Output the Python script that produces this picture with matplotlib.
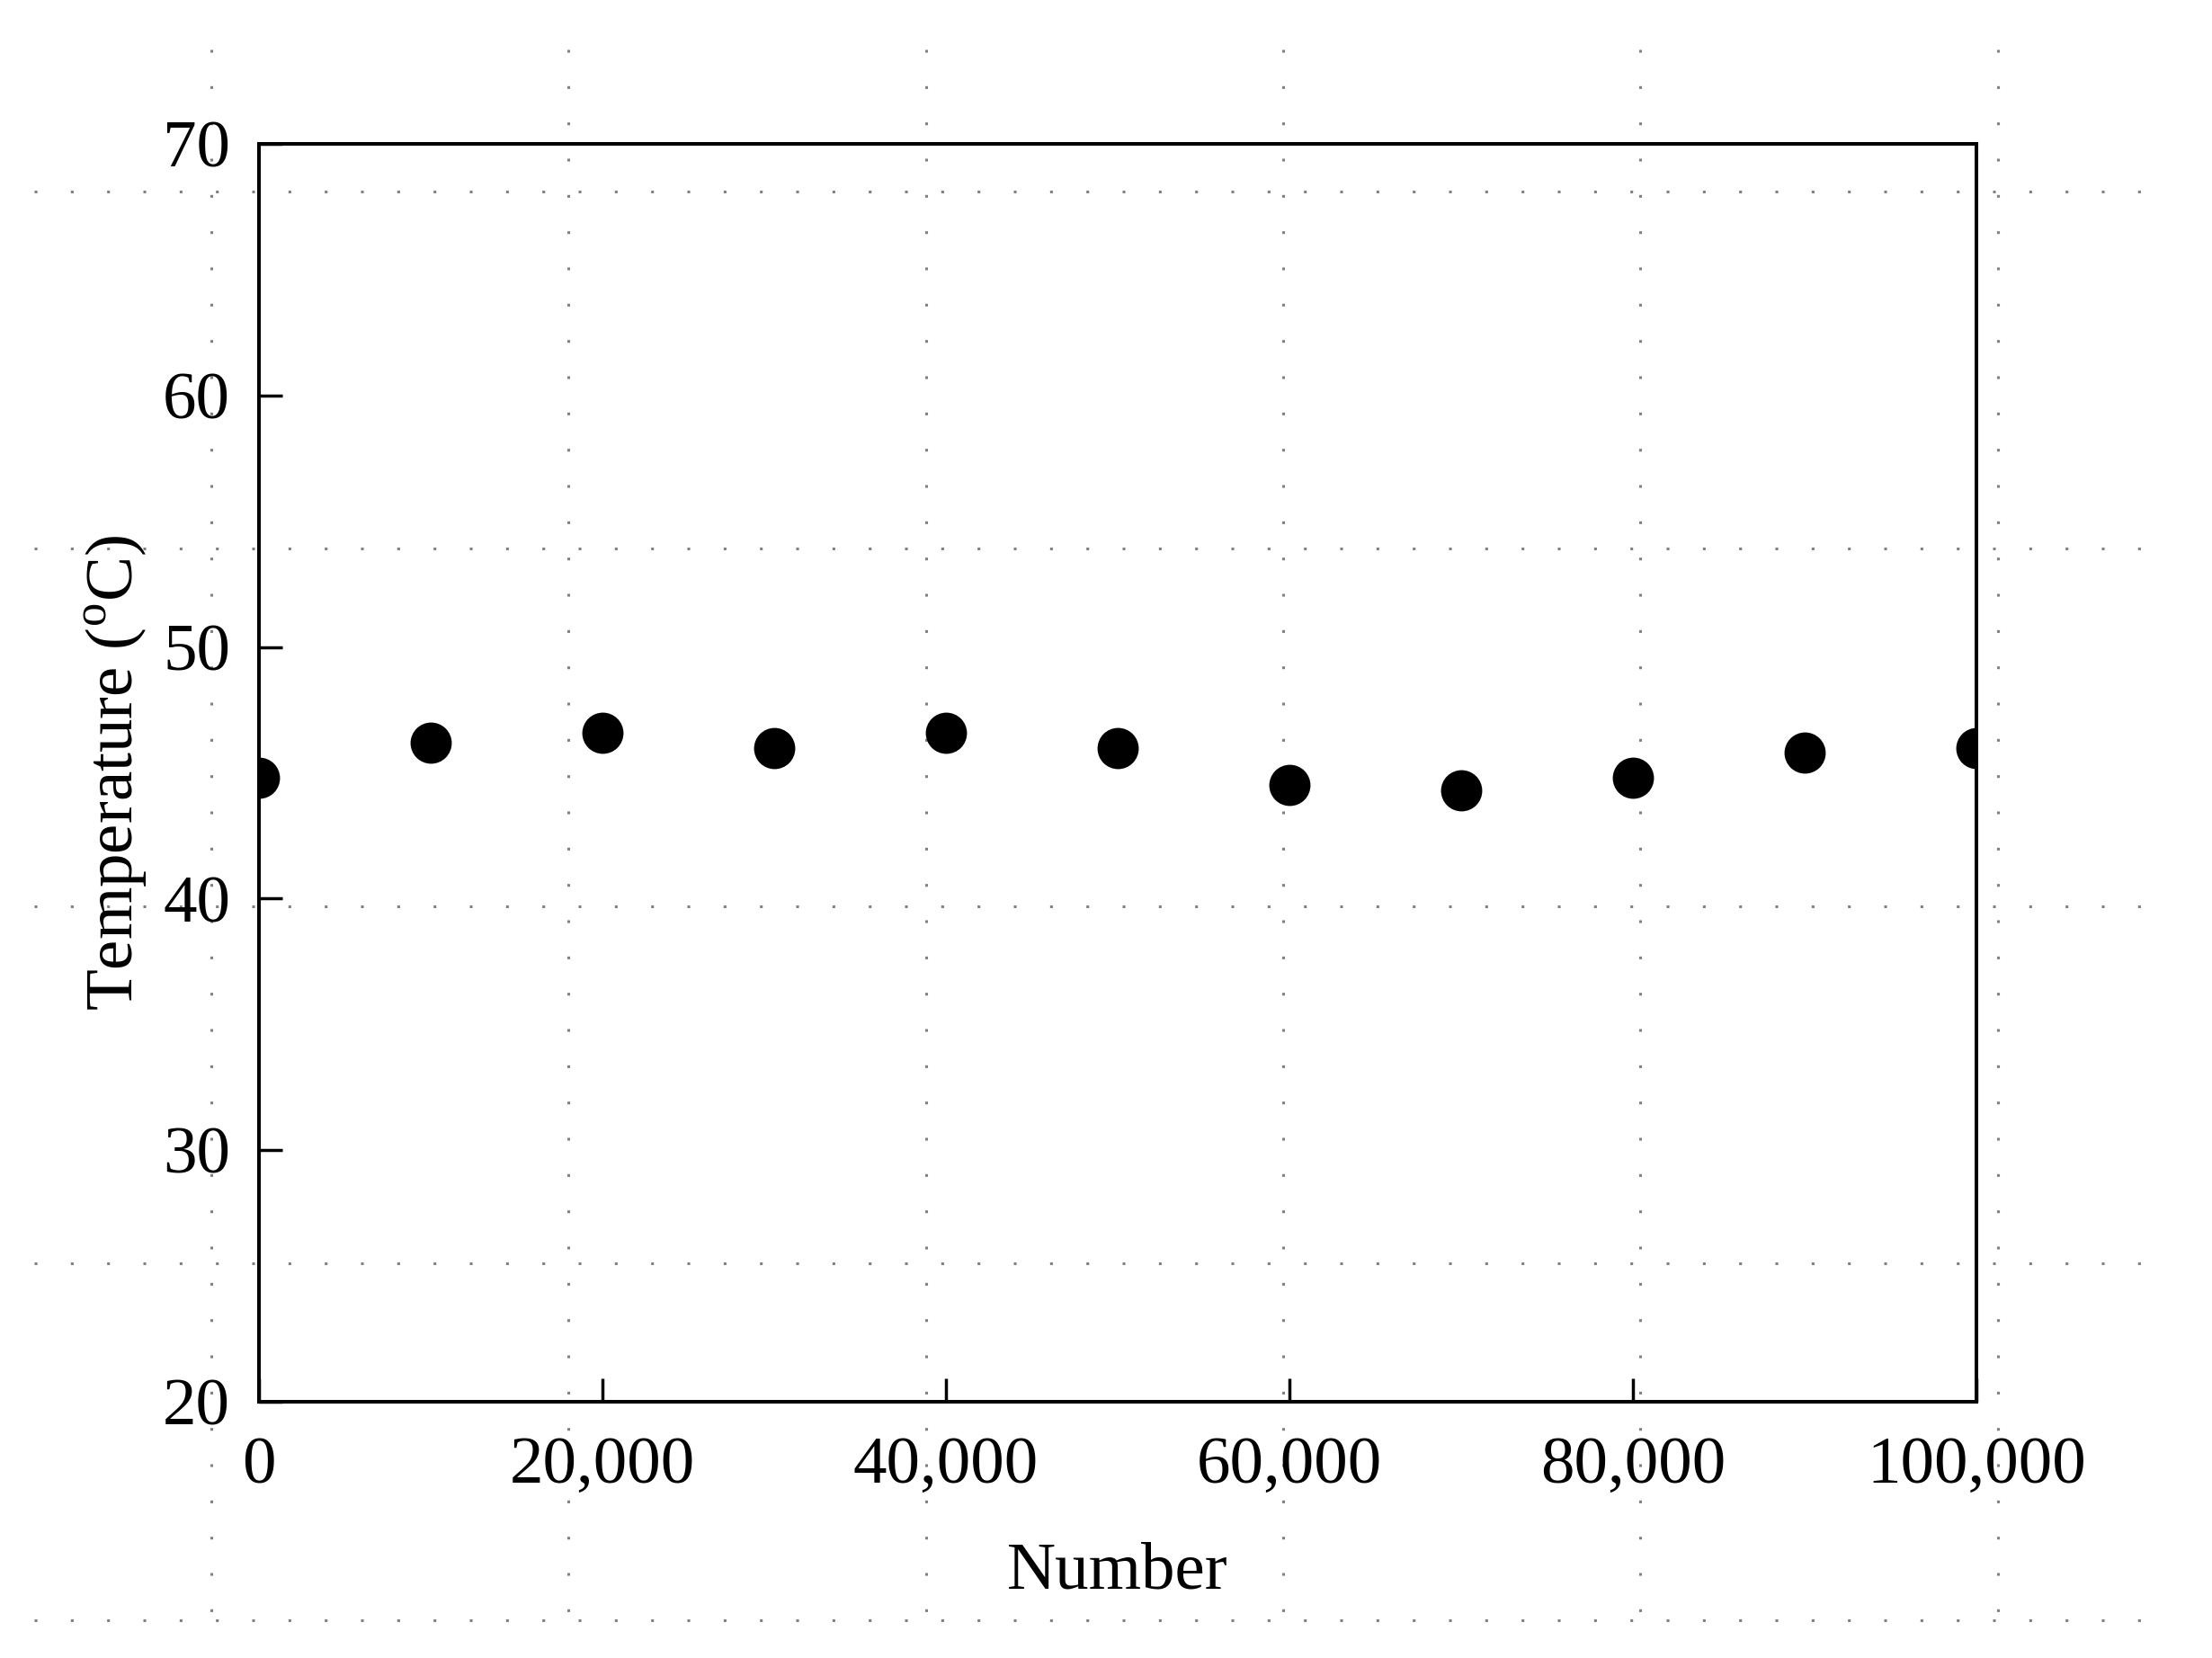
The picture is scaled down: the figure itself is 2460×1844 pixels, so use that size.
import numpy as np
import matplotlib
matplotlib.use("Agg")
import matplotlib.pyplot as plt

# data
numbers = [0, 10000, 20000, 30000, 40000, 50000, 60000, 70000, 80000, 90000, 100000]
temps = [44.8, 46.2, 46.6, 46.0, 46.6, 46.0, 44.5, 44.3, 44.8, 45.8, 46.0]
x_ticks = [0, 20000, 40000, 60000, 80000, 100000]
x_tick_labels = ["0", "20,000", "40,000", "60,000", "80,000", "100,000"]
y_ticks = [20, 30, 40, 50, 60, 70]

plt.rcParams['font.family'] = ['Liberation Serif', 'DejaVu Serif']
plt.rcParams['mathtext.fontset'] = 'custom'
plt.rcParams['mathtext.rm'] = 'Liberation Serif'

W, H = 2460, 1844
dpi = 100
fig = plt.figure(figsize=(W / dpi, H / dpi), dpi=dpi)

# dotted background grid over the whole page (pixel coords)
bg = fig.add_axes([0, 0, 1, 1], zorder=0)
bg.set_xlim(0, W)
bg.set_ylim(H, 0)
bg.axis('off')
dot = dict(color='0.5', lw=2.2, linestyle=(0, (1, 12.2)), dash_capstyle='butt')
for yy in 213 + 397.3 * np.arange(5):
    bg.plot([38, 2386], [yy, yy], **dot)
for xx in 235 + 397.3 * np.arange(6):
    bg.plot([xx, xx], [55, 1805], **dot)

# main axes
left, right, top, bottom = 288, 2198, 160, 1559
ax = fig.add_axes([left / W, (H - bottom) / H, (right - left) / W, (bottom - top) / H], zorder=1)
ax.patch.set_alpha(0)

ax.plot(numbers, temps, 'o', color='black', markersize=33, markeredgewidth=0)

ax.set_xlim(0, 100000)
ax.set_ylim(20, 70)
ax.set_xticks(x_ticks)
ax.set_xticklabels(x_tick_labels)
ax.set_yticks(y_ticks)

for s in ax.spines.values():
    s.set_linewidth(2.9)
ax.tick_params(direction='in', length=19, width=2.5, labelsize=54)
ax.tick_params(axis='x', pad=28)
ax.tick_params(axis='y', pad=23)

ax.set_xlabel("Number", fontsize=54, labelpad=36)
ax.set_ylabel(r"Temperature ($^{\rm o}$C)", fontsize=54, labelpad=11)

fig.savefig("out.png", dpi=dpi, facecolor='white')
